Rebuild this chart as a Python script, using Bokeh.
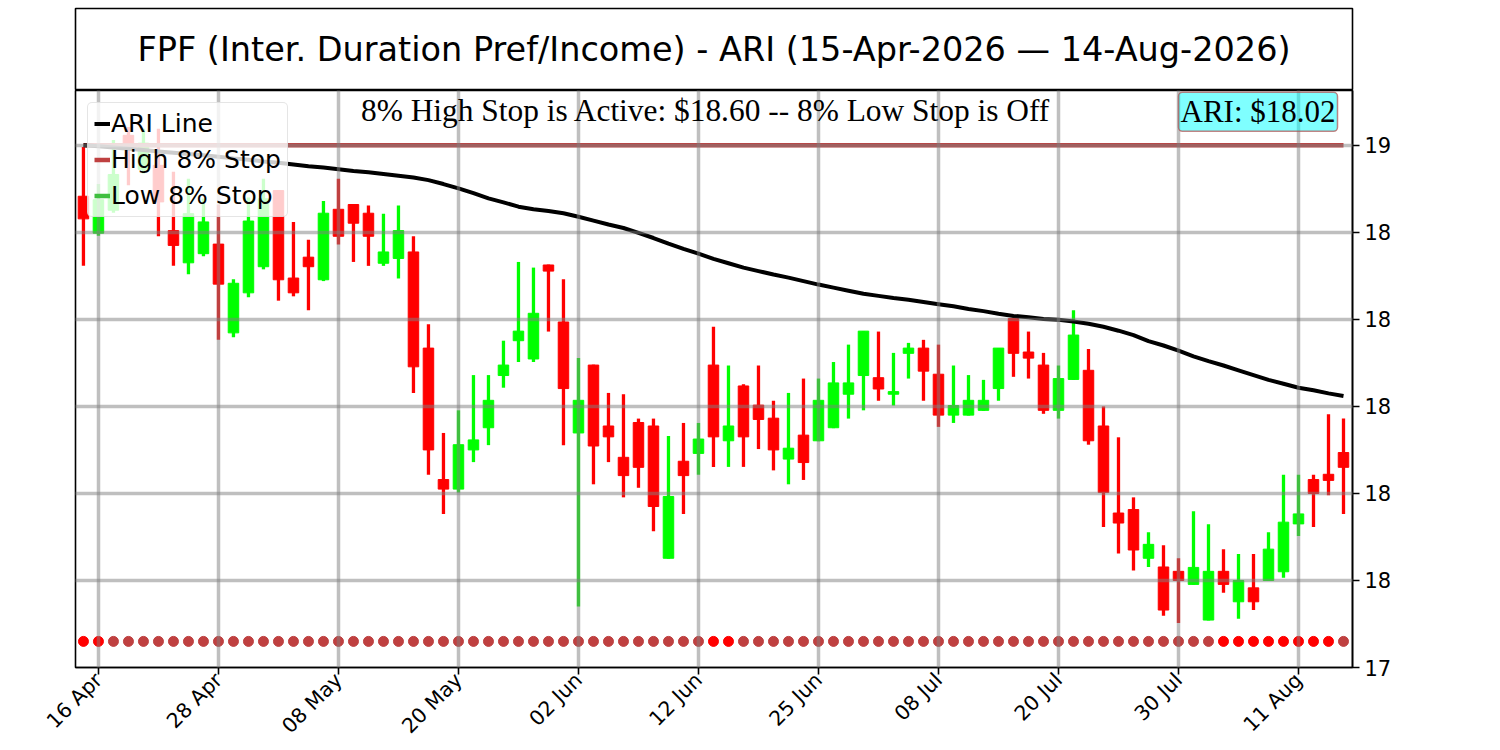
import math
from bokeh.plotting import figure
from bokeh.layouts import column
from bokeh.models import ColumnDataSource, FixedTicker, Label, Range1d
from bokeh.embed import file_html
from bokeh.resources import INLINE

# ---- data ----
opens = [18.483, 18.398, 18.451, 18.623, 18.545, 18.554, 18.404, 18.330, 18.351, 18.373,
         18.169, 18.261, 18.321, 18.496, 18.295, 18.343, 18.291, 18.453, 18.464, 18.444,
         18.329, 18.340, 18.355, 18.134, 17.832, 17.810, 17.900, 17.951, 18.071, 18.151,
         18.109, 18.325, 18.194, 17.939, 18.095, 17.955, 17.883, 17.963, 17.955, 17.651,
         17.874, 17.892, 18.095, 17.921, 18.047, 18.003, 17.973, 17.879, 17.934, 17.921,
         17.951, 18.028, 18.071, 18.066, 18.028, 18.122, 18.134, 18.074, 17.980, 17.980,
         17.991, 18.041, 18.202, 18.125, 18.095, 17.991, 18.062, 18.083, 17.955, 17.755,
         17.763, 17.651, 17.631, 17.621, 17.591, 17.509, 17.621, 17.551, 17.583, 17.600,
         17.620, 17.730, 17.832, 17.844, 17.894]
highs = [18.596, 18.511, 18.612, 18.642, 18.638, 18.638, 18.539, 18.523, 18.478, 18.464,
         18.292, 18.480, 18.523, 18.497, 18.424, 18.383, 18.472, 18.523, 18.465, 18.462,
         18.443, 18.462, 18.391, 18.189, 17.939, 17.991, 18.072, 18.072, 18.151, 18.332,
         18.319, 18.326, 18.292, 18.111, 18.096, 18.031, 18.028, 17.972, 17.972, 17.932,
         17.962, 17.962, 18.183, 18.094, 18.051, 18.094, 18.013, 18.031, 18.064, 18.064,
         18.102, 18.142, 18.173, 18.172, 18.123, 18.146, 18.153, 18.142, 18.094, 18.072,
         18.061, 18.134, 18.204, 18.172, 18.123, 18.094, 18.221, 18.132, 18.000, 17.929,
         17.791, 17.711, 17.681, 17.651, 17.759, 17.729, 17.672, 17.661, 17.661, 17.711,
         17.843, 17.843, 17.843, 17.982, 17.972]
lows = [18.323, 18.392, 18.445, 18.508, 18.535, 18.391, 18.323, 18.304, 18.345, 18.153,
        18.159, 18.251, 18.315, 18.243, 18.253, 18.221, 18.288, 18.372, 18.332, 18.323,
        18.323, 18.294, 18.031, 17.843, 17.753, 17.802, 17.872, 17.911, 18.043, 18.102,
        18.102, 18.172, 17.911, 17.540, 17.821, 17.872, 17.791, 17.813, 17.713, 17.650,
        17.753, 17.843, 17.861, 17.861, 17.861, 17.902, 17.853, 17.821, 17.831, 17.920,
        17.950, 17.972, 17.991, 18.013, 18.002, 18.064, 18.013, 17.953, 17.962, 17.979,
        17.990, 18.013, 18.068, 18.064, 17.983, 17.972, 18.061, 17.912, 17.723, 17.662,
        17.623, 17.631, 17.519, 17.502, 17.590, 17.508, 17.572, 17.512, 17.532, 17.599,
        17.606, 17.702, 17.723, 17.796, 17.753]
closes = [18.431, 18.475, 18.533, 18.595, 18.605, 18.470, 18.370, 18.443, 18.424, 18.281,
          18.283, 18.426, 18.477, 18.291, 18.261, 18.321, 18.444, 18.391, 18.421, 18.391,
          18.355, 18.404, 18.091, 17.900, 17.810, 17.912, 17.923, 18.014, 18.095, 18.173,
          18.214, 18.311, 18.041, 18.014, 17.909, 17.930, 17.841, 17.860, 17.770, 17.793,
          17.841, 17.925, 17.930, 17.955, 17.930, 17.970, 17.900, 17.904, 17.871, 18.014,
          18.054, 18.054, 18.173, 18.040, 18.034, 18.134, 18.081, 17.980, 18.002, 18.014,
          18.014, 18.134, 18.122, 18.111, 17.991, 18.064, 18.164, 17.921, 17.802, 17.732,
          17.670, 17.683, 17.532, 17.600, 17.630, 17.621, 17.591, 17.600, 17.551, 17.672,
          17.734, 17.753, 17.800, 17.830, 17.860]
ari_line = [18.600, 18.598, 18.595, 18.592, 18.589, 18.586, 18.583, 18.580, 18.577, 18.574,
            18.570, 18.567, 18.563, 18.560, 18.556, 18.552, 18.549, 18.545, 18.541, 18.538,
            18.534, 18.530, 18.526, 18.520, 18.511, 18.501, 18.490, 18.478, 18.469, 18.459,
            18.453, 18.449, 18.444, 18.436, 18.427, 18.418, 18.410, 18.399, 18.387, 18.374,
            18.362, 18.351, 18.339, 18.329, 18.319, 18.311, 18.303, 18.296, 18.288, 18.280,
            18.273, 18.266, 18.259, 18.254, 18.249, 18.245, 18.240, 18.235, 18.230, 18.224,
            18.219, 18.213, 18.208, 18.205, 18.201, 18.199, 18.195, 18.190, 18.183, 18.174,
            18.164, 18.150, 18.140, 18.128, 18.115, 18.104, 18.094, 18.083, 18.072, 18.061,
            18.052, 18.043, 18.037, 18.030, 18.024]
marker_active = [1, 1, 0, 0, 0, 0, 0, 0, 0, 0, 0, 0, 0, 0, 0, 0, 0, 0, 0, 0,
                 0, 0, 0, 0, 0, 0, 0, 0, 0, 0, 0, 0, 0, 0, 0, 0, 0, 0, 0, 0,
                 0, 0, 1, 1, 0, 0, 0, 0, 0, 0, 0, 0, 0, 0, 0, 0, 0, 0, 0, 0,
                 0, 0, 0, 0, 0, 0, 0, 0, 0, 0, 0, 0, 0, 0, 0, 0, 1, 1, 1, 1,
                 1, 1, 1, 1, 0]
high_stop = 18.60
marker_level = 17.46
xtick_pos = [1, 9, 17, 25, 33, 41, 49, 57, 65, 73, 81]
xtick_labels = ["16 Apr", "28 Apr", "08 May", "20 May", "02 Jun", "12 Jun",
                "25 Jun", "08 Jul", "20 Jul", "30 Jul", "11 Aug"]
ytick_vals = [17.4, 17.6, 17.8, 18.0, 18.2, 18.4, 18.6]
ytick_labels = ["17", "18", "18", "18", "18", "18", "19"]
title_text = "FPF (Inter. Duration Pref/Income) - ARI (15-Apr-2026 \u2014 14-Aug-2026)"
stop_text = "8% High Stop is Active: $18.60 -- 8% Low Stop is Off"
ari_text = "ARI: $18.02"

n = len(opens)
idx = list(range(n))
UP, DOWN = "#00ff00", "#ff0000"
colors = [UP if c >= o else DOWN for o, c in zip(opens, closes)]
src = ColumnDataSource(dict(
    x=idx, o=opens, h=highs, l=lows, c=closes,
    top=[max(o, c) for o, c in zip(opens, closes)],
    bot=[min(o, c) for o, c in zip(opens, closes)],
    color=colors,
    ari=ari_line,
    mk=[marker_level] * n,
    mcol=["#ff0000" if a else "#bf4040" for a in marker_active],
))

FONT = "DejaVu Sans"
W = 1492
LB, RB = 75, 140

# ---- title box ----
t = figure(width=W, height=90, output_backend="svg", toolbar_location=None,
           title=None, x_range=Range1d(0, 1), y_range=Range1d(0, 1),
           min_border_left=LB, min_border_right=RB, min_border_top=8, min_border_bottom=0)
t.xaxis.visible = False
t.yaxis.visible = False
t.grid.visible = False
t.outline_line_color = "black"
t.outline_line_width = 1.6
t.add_layout(Label(x=0.5, y=0.5, text=title_text, text_align="center", text_baseline="middle",
                   text_font=FONT, text_font_size="33.5px", text_color="black"))

# ---- main chart ----
p = figure(width=W, height=660, output_backend="svg", toolbar_location=None, title=None,
           x_range=Range1d(-0.53, 84.6), y_range=Range1d(17.4, 18.726),
           y_axis_location="right",
           min_border_left=LB, min_border_right=RB, min_border_top=0, min_border_bottom=83)
p.outline_line_color = "black"
p.outline_line_width = 1.6

p.segment(x0="x", y0="l", x1="x", y1="h", source=src, line_color="color", line_width=3.3)
p.vbar(x="x", width=0.7, top="top", bottom="bot", source=src, fill_color="color",
       line_color="color", line_width=1)

p.line(x=[0, n - 1], y=[high_stop, high_stop], line_color="#bf4040", line_width=4.5,
       legend_label="High 8% Stop")
p.line(x="x", y="ari", source=src, line_color="black", line_width=4, legend_label="ARI Line")
p.line(x=[0, 1], y=[float("nan"), float("nan")], line_color="#40bf40", line_width=4.5,
       legend_label="Low 8% Stop")
p.scatter(x="x", y="mk", source=src, size=10, fill_color="mcol", line_color="mcol")

items = p.legend[0].items
order = {"ARI Line": 0, "High 8% Stop": 1, "Low 8% Stop": 2}
p.legend[0].items = sorted(items, key=lambda it: order[it.label.value])

p.xaxis.ticker = FixedTicker(ticks=xtick_pos)
p.xaxis.major_label_overrides = {k: v for k, v in zip(xtick_pos, xtick_labels)}
p.xaxis.major_label_orientation = math.pi / 4
p.yaxis.ticker = FixedTicker(ticks=ytick_vals)
p.yaxis.major_label_overrides = {k: v for k, v in zip(ytick_vals, ytick_labels)}
for ax in (p.xaxis, p.yaxis):
    ax.minor_tick_line_color = None
    ax.major_tick_out = 7
    ax.major_tick_in = 0
    ax.major_tick_line_width = 1.6
    ax.major_tick_line_color = "black"
    ax.axis_line_width = 1.6
    ax.axis_line_color = "black"
    ax.major_label_text_font = FONT
    ax.major_label_text_font_size = "21px"
    ax.major_label_text_color = "black"
    ax.major_label_standoff = 5
p.xaxis.major_label_standoff = 2
p.xaxis.major_label_text_font_size = "20.5px"

p.grid.grid_line_color = "gray"
p.grid.grid_line_alpha = 0.5
p.grid.grid_line_width = 3.5
p.xgrid.level = "guide"
p.ygrid.level = "guide"

lg = p.legend[0]
lg.location = "top_left"
lg.margin = 12
lg.padding = 6
lg.spacing = 7
lg.glyph_width = 16
lg.glyph_height = 29
lg.label_height = 29
lg.label_standoff = 1
lg.label_text_font = FONT
lg.label_text_font_size = "25px"
lg.label_text_color = "black"
lg.background_fill_color = "white"
lg.background_fill_alpha = 0.8
lg.border_line_color = "#cccccc"
lg.border_line_width = 1.5
lg.border_radius = 5

p.add_layout(Label(x=41.5, y=18.68, text=stop_text, text_align="center", text_baseline="middle",
                   text_font="Liberation Serif", text_font_size="31.4px", text_color="black"))
p.add_layout(Label(x=78.3, y=18.677, text=ari_text, text_align="center", text_baseline="middle",
                   text_font="Liberation Serif", text_font_size="31px", text_color="black",
                   background_fill_color="cyan", background_fill_alpha=0.5,
                   border_line_color="#b05050", border_line_alpha=0.7, border_line_width=1.5,
                   padding=2, border_radius=4))

layout = column(t, p, spacing=0)
open("out.html", "w").write(file_html(layout, INLINE))
